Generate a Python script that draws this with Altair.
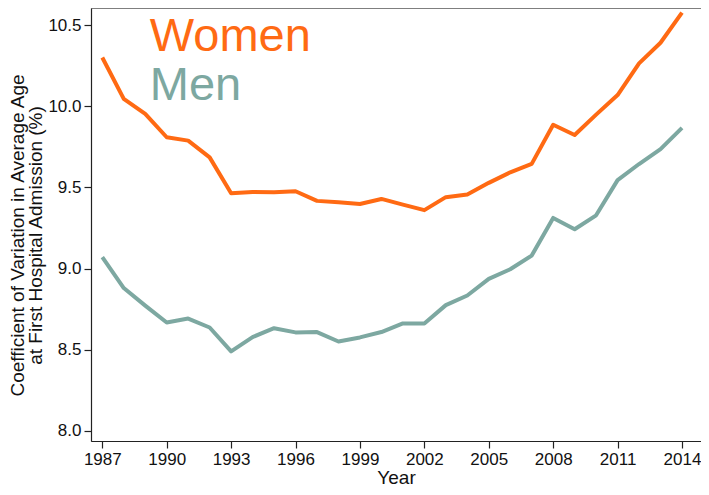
import altair as alt
import pandas as pd

years = list(range(1987, 2015))
women = [10.30, 10.045, 9.953, 9.809, 9.788, 9.685, 9.464, 9.472, 9.470, 9.476,
         9.417, 9.408, 9.398, 9.429, 9.394, 9.360, 9.440, 9.456, 9.528, 9.593,
         9.645, 9.886, 9.823, 9.948, 10.069, 10.264, 10.391, 10.576]
men = [9.07, 8.88, 8.772, 8.668, 8.692, 8.637, 8.49, 8.578, 8.633, 8.607,
       8.609, 8.551, 8.576, 8.609, 8.662, 8.662, 8.775, 8.834, 8.937, 8.996,
       9.08, 9.312, 9.242, 9.328, 9.545, 9.644, 9.736, 9.867]
series_names = ["Women", "Men"]
series_colors = ["#FF6A13", "#7DA8A1"]
x_ticks = [1987, 1990, 1993, 1996, 1999, 2002, 2005, 2008, 2011, 2014]
y_ticks = [8.0, 8.5, 9.0, 9.5, 10.0, 10.5]
label_year = [1989.21, 1989.21]
label_value = [10.34, 10.038]

rows = []
for y, w, m in zip(years, women, men):
    rows.append({"Year": y, "Value": w, "Sex": "Women"})
    rows.append({"Year": y, "Value": m, "Sex": "Men"})
df = pd.DataFrame(rows)
labels = pd.DataFrame({"Year": label_year, "Value": label_value, "Sex": series_names})

FONT = "Liberation Sans"
xscale = alt.Scale(domain=[1986.474, 2014.885], nice=False, zero=False)
yscale = alt.Scale(domain=[7.938, 10.605], nice=False, zero=False)
cscale = alt.Scale(domain=series_names, range=series_colors)

lines = alt.Chart(df).mark_line(strokeWidth=4, strokeJoin="round").encode(
    x=alt.X("Year:Q", scale=xscale,
            axis=alt.Axis(values=x_ticks, format="d", title="Year", grid=False,
                          tickSize=7, labelPadding=3, labelFontSize=17,
                          titleFontSize=19, titleFontWeight="normal",
                          titleY=42, titleBaseline="alphabetic",
                          labelFlush=False)),
    y=alt.Y("Value:Q", scale=yscale,
            axis=alt.Axis(values=y_ticks, format=".1f",
                          title=["Coefficient of Variation in Average Age",
                                 "at First Hospital Admission (%)"],
                          grid=False, tickSize=7, labelPadding=3,
                          labelFontSize=17, titleFontSize=19,
                          titleFontWeight="normal", titleAngle=-90,
                          titleX=-68, titleY=227, titleAlign="center",
                          titleBaseline="alphabetic", titleLineHeight=18,
                          labelFlush=False)),
    color=alt.Color("Sex:N", scale=cscale, legend=None),
    detail="Sex:N",
)

texts = alt.Chart(labels).mark_text(align="left", baseline="alphabetic",
                                    fontSize=47, font=FONT).encode(
    x=alt.X("Year:Q", scale=xscale),
    y=alt.Y("Value:Q", scale=yscale),
    text="Sex:N",
    color=alt.Color("Sex:N", scale=cscale, legend=None),
)

chart = (lines + texts).properties(
    width=610, height=433,
    autosize=alt.AutoSizeParams(type="none"),
    padding={"left": 83, "top": 0, "right": 0, "bottom": 46},
).configure_view(
    stroke="#7f7f7f", strokeWidth=1
).configure_axis(
    domainColor="#222222", tickColor="#222222", labelColor="#111111",
    titleColor="#111111", labelFont=FONT, titleFont=FONT, domainWidth=1.2,
    tickWidth=1.2
)

chart.save("out.html", embed_options={"renderer": "svg", "actions": False})
